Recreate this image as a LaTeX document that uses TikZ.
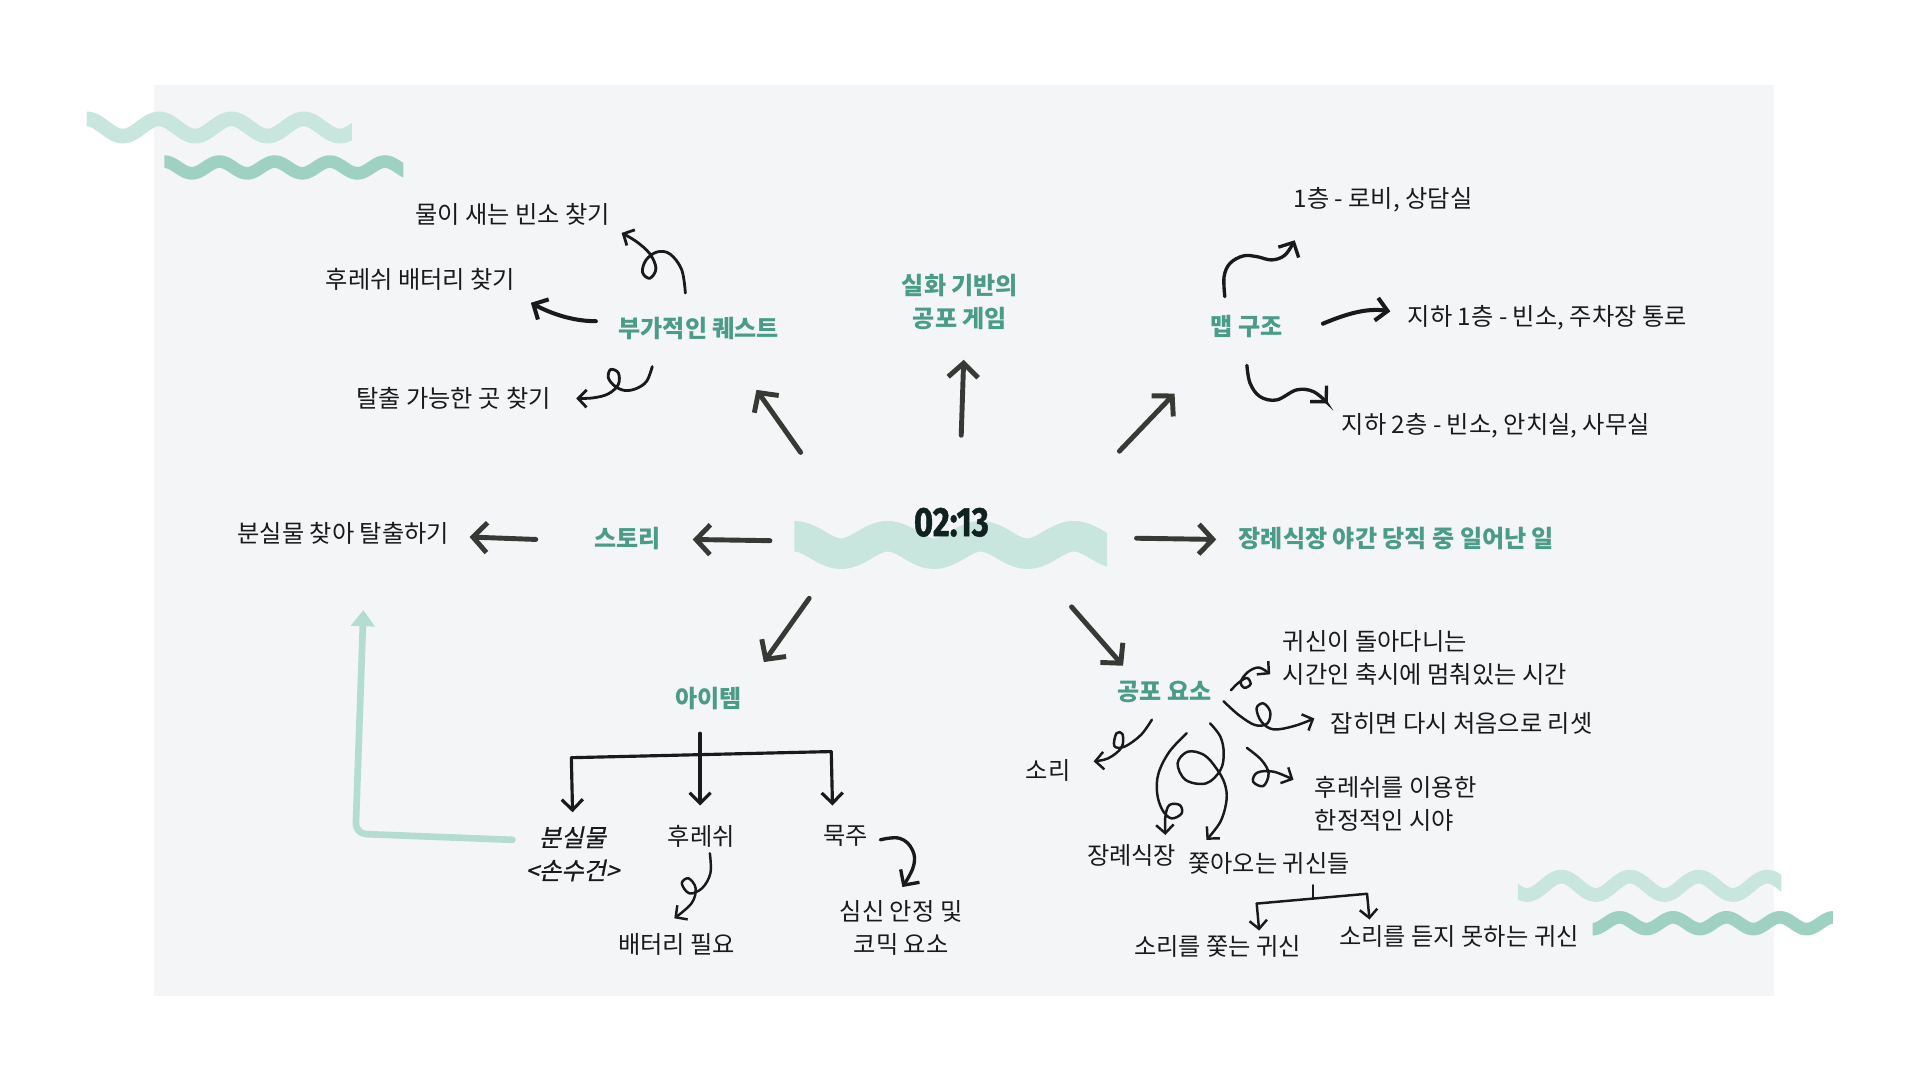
\documentclass[tikz,border=0pt]{standalone}
\usepackage{fontspec}
\usepackage{graphicx}
\usetikzlibrary{arrows.meta}
\newfontfamily\kr{Noto Sans CJK KR}
\newfontfamily\krit{Noto Sans CJK KR}[FakeSlant=0.2, FakeBold=0.6]
\newfontfamily\clockfont{Fira Sans}[BoldFeatures={FakeBold=1.2}]
\definecolor{panel}{HTML}{F3F5F7}
\definecolor{wlight}{HTML}{C8E6DE}
\definecolor{wdark}{HTML}{9FD1C3}
\definecolor{teal0}{HTML}{4A9C88}
\definecolor{arrgray}{HTML}{383834}
\definecolor{ink}{HTML}{1A1A1A}
\definecolor{clockink}{HTML}{10221F}
\definecolor{guide}{HTML}{B5DCD1}
\tikzstyle{topic}=[font=\kr\bfseries\fontsize{6.85}{9.4}\selectfont, text=teal0, inner sep=1pt, align=center]
\tikzstyle{sub}=[font=\kr\fontsize{6.9}{9.4}\selectfont, text=ink, inner sep=1pt, align=center]
\tikzstyle{big}=[draw=arrgray, line width=1.4pt, line cap=round, -{Straight Barb[length=4pt,width=8.5pt]}]
\tikzstyle{mid}=[draw=ink, line width=1.15pt, line cap=round, -{Straight Barb[length=3.2pt,width=6.5pt]}]
\tikzstyle{curl}=[draw=ink, line width=0.7pt, line cap=round, line join=round, -{Straight Barb[length=2.4pt,width=5pt]}]
\tikzstyle{tree}=[draw=ink, line width=0.9pt, line cap=round]

\begin{document}
\begin{tikzpicture}[x=0.012261cm, y=-0.012261cm]
\useasboundingbox (0,0) rectangle (1566,881);
\fill[panel] (126,69) rectangle (1447,812);

% waves
\begin{scope}
\clip (70.7,80) rectangle (287,130);
\draw[wlight, line width=4.2pt] plot[domain=60:300, samples=120, smooth] (\x,{104-7*cos((\x-70.7)/59*360)});
\end{scope}
\begin{scope}
\clip (134,120) rectangle (329,155);
\draw[wdark, line width=3.6pt] plot[domain=120:340, samples=120, smooth] (\x,{136.6-4.8*cos((\x-134)/45*360)});
\end{scope}
\begin{scope}
\clip (648,410) rectangle (903,480);
\draw[wlight, line width=8.7pt] plot[domain=640:910, samples=140, smooth] (\x,{444.5-7.1*cos((\x-648)/76*360)});
\end{scope}
\begin{scope}
\clip (1238,700) rectangle (1453,745);
\draw[wlight, line width=3.9pt] plot[domain=1230:1460, samples=120, smooth] (\x,{722.5-7.5*cos((\x-1329.5)/56*360)});
\end{scope}
\begin{scope}
\clip (1299,738) rectangle (1495,770);
\draw[wdark, line width=3.6pt] plot[domain=1290:1500, samples=120, smooth] (\x,{753-4.8*cos((\x-1321)/43.6*360)});
\end{scope}

% hub and branches
\node[font=\clockfont\bfseries\fontsize{11.7}{12}\selectfont, text=clockink, inner sep=0pt] (clk) at (776,426) {\scalebox{0.8}[1]{02:13}};
\node[topic] (game) at (783,246.5) {실화 기반의\\공포 게임};
\node[topic] (quest) at (570,268) {부가적인 퀘스트};
\node[topic] (map) at (1017,266) {맵 구조};
\node[topic] (story) at (512,439) {스토리};
\node[topic] (base) at (1139,439) {장례식장 야간 당직 중 일어난 일};
\node[topic] (item) at (578,570) {아이템};
\node[topic] (fear) at (950,564) {공포 요소};

\node[sub] (q1) at (418,175) {물이 새는 빈소 찾기};
\node[sub] (q2) at (343,228) {후레쉬 배터리 찾기};
\node[sub] (q3) at (370,325) {탈출 가능한 곳 찾기};
\node[sub] (m1) at (1128,163) {1층 - 로비, 상담실};
\node[sub] (m2) at (1262,259) {지하 1층 - 빈소, 주차장 통로};
\node[sub] (m3) at (1220,347) {지하 2층 - 빈소, 안치실, 사무실};
\node[sub] (goal) at (280,435) {분실물 찾아 탈출하기};
\node[sub, font=\krit\fontsize{6.9}{9.4}\selectfont] (lost) at (467,696.5) {분실물\\<손수건>};
\node[sub] (flash) at (572,682) {후레쉬};
\node[sub] (rosary) at (690,682) {묵주};
\node[sub] (battery) at (552,770) {배터리 필요};
\node[sub] (calm) at (735,756.5) {심신 안정 및\\코믹 요소};
\node[sub, align=left, anchor=west] (time) at (1043,537) {귀신이 돌아다니는\\시간인 축시에 멈춰있는 시간};
\node[sub, anchor=west] (reset) at (1082,590) {잡히면 다시 처음으로 리셋};
\node[sub, align=left, anchor=west] (sight) at (1069,655.5) {후레쉬를 이용한\\한정적인 시야};
\node[sub] (sound) at (855,628) {소리};
\node[sub] (hall) at (923,698) {장례식장};
\node[sub] (ghosts) at (1035,704) {쫓아오는 귀신들};
\node[sub] (g1) at (993,772) {소리를 쫓는 귀신};
\node[sub] (g2) at (1190,764) {소리를 듣지 못하는 귀신};

% radial arrows
\draw[big] ([shift={(8,-71)}]clk.center) -- ([shift={(3,47)}]game.center);
\draw[big] ([shift={(-123,-57)}]clk.center) -- ([shift={(47,50)}]quest.center);
\draw[big] ([shift={(137,-58)}]clk.center) -- ([shift={(-59,55)}]map.center);
\draw[big] ([shift={(-148,15)}]clk.center) -- ([shift={(53,1)}]story.center);
\draw[big] ([shift={(-75,1)}]story.center) -- ([shift={(103,3)}]goal.center);
\draw[big] ([shift={(151,13)}]clk.center) -- ([shift={(-147,1)}]base.center);
\draw[big] ([shift={(-116,62)}]clk.center) -- ([shift={(45,-30)}]item.center);
\draw[big] ([shift={(98,69)}]clk.center) -- ([shift={(-34,-21)}]fear.center);

% quests
\draw[curl, line width=0.8pt] plot[smooth, tension=0.6] coordinates {([shift={(-11,-29)}]quest.center) (556,220) (546.5,207.2) (536,205.5) (527,212) (524,222) (530,227) (535,219) (530,207) (519,197) ([shift={(89,15)}]q1.center)};
\draw[mid] ([shift={(-84,-6)}]quest.center) .. controls (466,262) and (448,255) .. ([shift={(90,19)}]q2.center);
\draw[curl, line width=0.8pt] plot[smooth, tension=0.6] coordinates {([shift={(-38,31)}]quest.center) (527.5,310.8) (519.3,316.8) (509.8,318.5) (501.6,315) (496.2,308.2) (498,301.4) (504.3,304.1) (504.3,313.6) (496.2,321.2) (483.9,324.5) ([shift={(100,0)}]q3.center)};

% map
\draw[mid, line width=0.95pt] plot[smooth, tension=0.6] coordinates {([shift={(-18,-24)}]map.center) (998.4,225.6) (1003.3,214.7) (1014.2,208.7) (1025,209.3) (1037.3,212) (1048.1,208) ([shift={(-72,33)}]m1.center)};
\draw[mid] ([shift={(62,-2)}]map.center) .. controls (1098,256) and (1115,251) .. ([shift={(-128,-5)}]m2.center);
\draw[mid, line width=0.95pt] plot[smooth, tension=0.6] coordinates {([shift={(0,32)}]map.center) (1019.6,312.6) (1027.7,323.5) (1041.3,326.2) (1057.6,318) (1071.2,319.4) ([shift={(-137,-18)}]m3.center)};

% items
\coordinate (il) at (466,618);
\coordinate (ir) at (678,613);
\draw[tree] (il) -- (ir);
\draw[tree, -{Straight Barb[length=3pt,width=6pt]}] ([shift={(-7,28)}]item.center) -- ([shift={(-1,-25)}]flash.center);
\draw[tree, -{Straight Barb[length=3pt,width=6pt]}] (il) -- ([shift={(0,-34)}]lost.center);
\draw[tree, -{Straight Barb[length=3pt,width=6pt]}] (ir) -- ([shift={(-11,-25)}]rosary.center);
\draw[curl] plot[smooth, tension=0.6] coordinates {([shift={(7,14)}]flash.center) (579.4,712.3) (572.6,724.5) (562.2,728.6) (556.1,720.5) (561.6,716.4) (567.4,724.5) (564,736.8) ([shift={(-2,-21)}]battery.center)};
\draw[mid, line width=0.95pt] plot[smooth, tension=0.7] coordinates {([shift={(28,3)}]rosary.center) (733.9,683.8) (744.2,693.3) (744.9,707) ([shift={(1,-33)}]calm.center)};
\coordinate (lostup) at (296.4,497.6);
\draw[guide, line width=1.9pt, line cap=round, rounded corners=3pt, -{Triangle[length=4.6pt,width=6.6pt]}] ([shift={(-49,-11.5)}]lost.center) -- (290,680) -- (lostup);

% fear
\draw[curl] plot[smooth, tension=0.6] coordinates {([shift={(54,-1)}]fear.center) (1010,557) (1017,553) (1020,558) (1015,561) (1012,556) (1018,548) (1027,544.5) ([shift={(-7,13)}]time.west)};
\draw[curl] plot[smooth, tension=0.6] coordinates {([shift={(48,8)}]fear.center) (1010.4,583.2) (1023.7,591.4) (1033.7,590) (1036,580.5) (1030.4,573.7) (1024.9,577.8) (1028.9,588.7) (1038.7,594.9) (1055.4,592.2) ([shift={(-10,-4)}]reset.west)};
\draw[curl] plot[smooth, tension=0.6] coordinates {([shift={(-10.5,23)}]fear.center) (930.5,599.5) (917.2,609) (908.9,608.5) (910.6,598.1) (915.5,598.7) (914.8,609.6) (903.9,618.5) ([shift={(37,-7)}]sound.center)};
\draw[curl] plot[smooth, tension=0.6] coordinates {([shift={(18,34)}]fear.center) (953.8,613.1) (944.9,630.8) (943.8,647.1) (948.1,660.7) (955.5,667.5) (963.8,663.4) (962.2,656.6) (953.8,656.6) (950.5,666.1) ([shift={(27.5,-17)}]hall.center)};
\draw[curl] plot[smooth, tension=0.6] coordinates {([shift={(37,26)}]fear.center) (995.4,600.9) (998.1,614.5) (995.4,628.1) (983.8,638.9) (967.1,636.2) (960.5,622.6) (968.8,613.1) (982.1,615.8) (992.1,626.7) (998.8,638.9) (1000.4,652.5) (995.4,670.2) ([shift={(-51,-19)}]ghosts.center)};
\draw[curl] plot[smooth, tension=0.6] coordinates {([shift={(67,46)}]fear.center) (1028.9,619.9) (1034.7,630.8) (1030.4,641.1) (1022.1,637.6) (1025.4,630.2) (1038.7,629.4) ([shift={(-14,-19.5)}]sight.west)};

% ghosts
\coordinate (gl) at (1025,737);
\coordinate (gr) at (1115,729);
\coordinate (gj) at (1071,733);
\draw[tree, line width=0.7pt] ([shift={(36,18)}]ghosts.center) -- (gj);
\draw[tree, line width=0.7pt] (gl) -- (gr);
\draw[tree, line width=0.7pt, -{Straight Barb[length=2.4pt,width=5pt]}] (gl) -- ([shift={(34,-13)}]g1.center);
\draw[tree, line width=0.7pt, -{Straight Barb[length=2.4pt,width=5pt]}] (gr) -- ([shift={(-73,-14)}]g2.center);
\end{tikzpicture}
\end{document}
